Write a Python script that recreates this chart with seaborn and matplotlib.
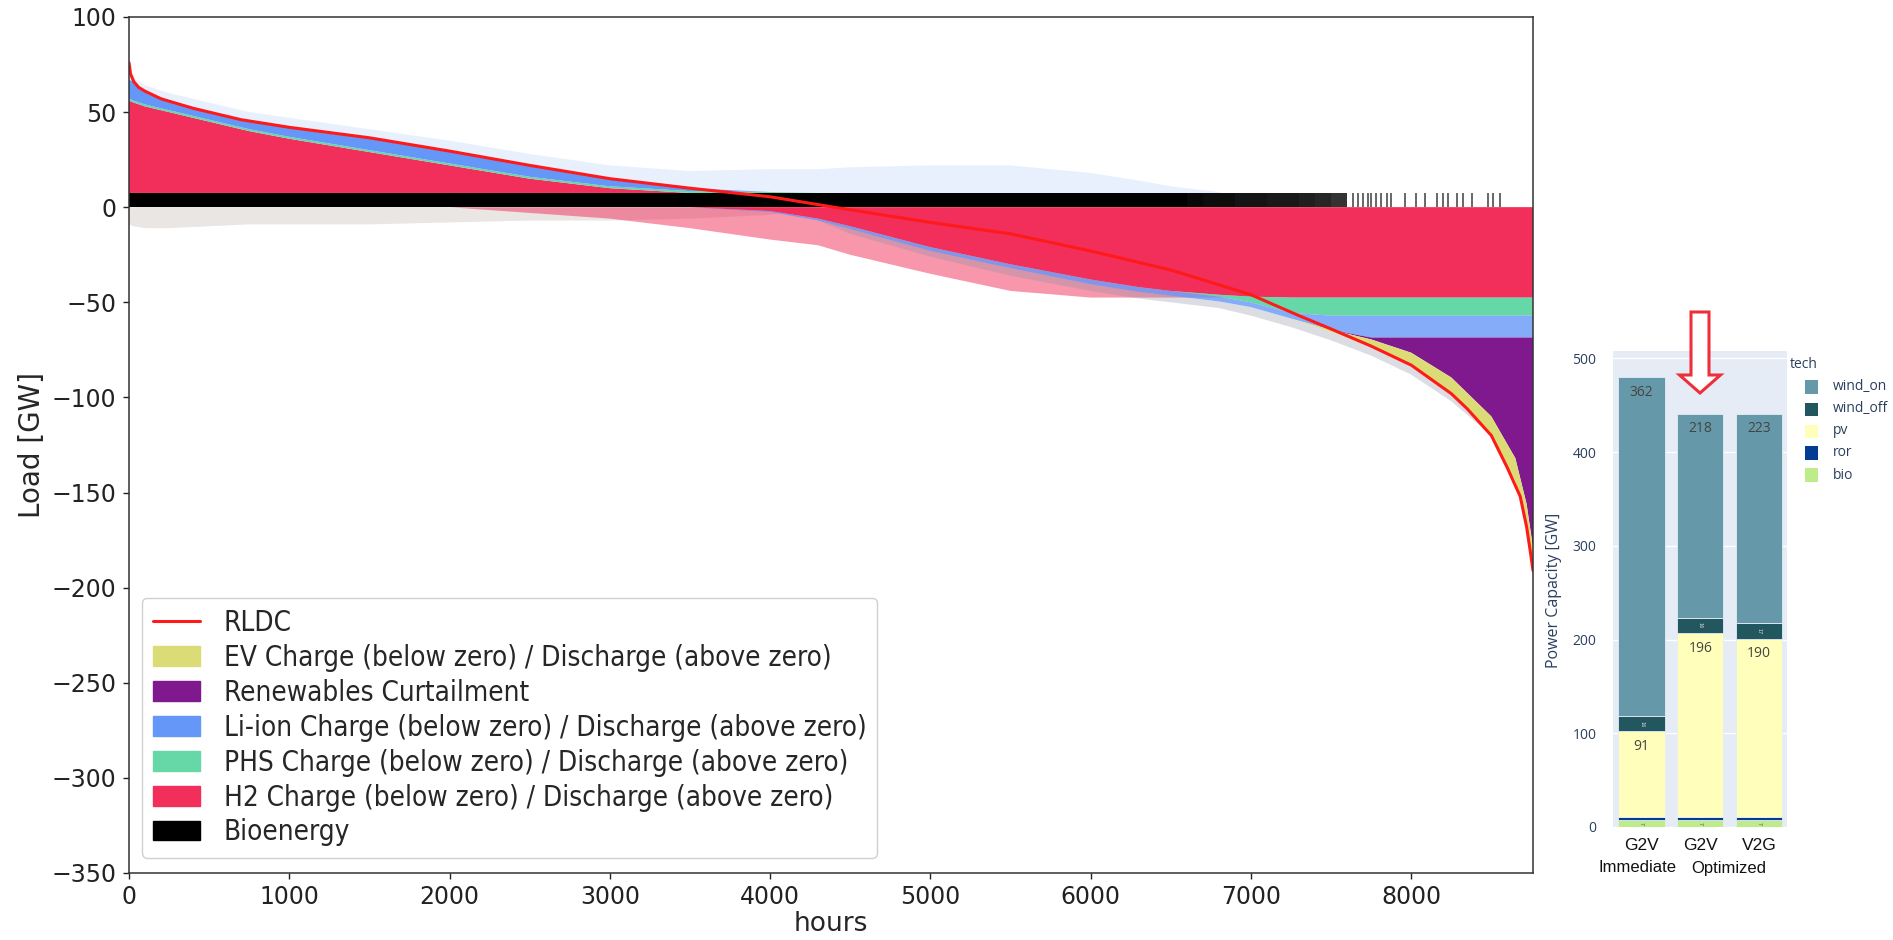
import matplotlib
matplotlib.use('Agg')
import matplotlib.pyplot as plt
from matplotlib.patches import Patch, Polygon, Rectangle
from matplotlib.lines import Line2D
import numpy as np
import pandas as pd
import seaborn as sns

sns.set_style('ticks')
plt.rcParams['font.family'] = ['DejaVu Sans']

# Residual load duration curve (hours sorted by residual load)
rldc_hours = [0, 10, 30, 60, 100, 200, 400, 700, 1000, 1500, 2000, 2500, 3000, 3500, 4000, 4400,
              5000, 5500, 6000, 6500, 7000, 7300, 7500, 7750, 8000, 8250, 8350, 8500, 8600, 8680,
              8720, 8745, 8760]
rldc_gw = [76, 70, 66, 63, 61, 57, 52, 46, 42, 36.5, 29.5, 22, 15, 10, 5.5, 0,
           -8, -14, -23, -33, -46, -57, -64, -73, -83, -98, -106, -120, -137, -152,
           -168, -182, -191]

hours = [0, 30, 100, 250, 500, 750, 1000, 1500, 2000, 2500, 3000, 3500, 4000, 4300, 4500, 5000,
         5500, 6000, 6300, 6500, 6800, 7000, 7250, 7500, 7750, 8000, 8250, 8500, 8650, 8720, 8760]

# above zero (discharge / generation)
bio_gw = [7.5, 7.5, 7.5, 7.5, 7.5, 7.5, 7.5, 7.5, 7.5, 7.5, 7.5, 7.5, 7.5, 7.5, 7.5, 7.5,
          7.5, 7.5, 7.5, 7.5, 0, 0, 0, 0, 0, 0, 0, 0, 0, 0, 0]
h2_dis = [48.5, 47.5, 45.5, 42.5, 37.5, 32.5, 28.5, 21.5, 14.5, 7.5, 2.5, 0, 0, 0, 0, 0,
          0, 0, 0, 0, 0, 0, 0, 0, 0, 0, 0, 0, 0, 0, 0]
phs_dis = [1, 1, 1, 1, 1, 1, 1, 1, 1, 1, 1, 1, 0.5, 0, 0, 0,
           0, 0, 0, 0, 0, 0, 0, 0, 0, 0, 0, 0, 0, 0, 0]
li_dis = [10, 10, 7, 5, 4.5, 4, 5, 6.5, 6.5, 6, 4, 1.5, 0, 0, 0, 0,
          0, 0, 0, 0, 0, 0, 0, 0, 0, 0, 0, 0, 0, 0, 0]

# below zero (charge / curtailment), as magnitudes
h2_ch = [0, 0, 0, 0, 0, 0, 0, 0, 0, 0, 0, 0, 2, 6, 10, 21,
         30, 38, 42, 44, 46, 47, 47.5, 47.5, 47.5, 47.5, 47.5, 47.5, 47.5, 47.5, 47.5]
phs_ch = [0, 0, 0, 0, 0, 0, 0, 0, 0, 0, 0, 0, 0, 0, 0, 0,
          0, 0, 0, 0, 1, 3, 8, 9.5, 9.5, 9.5, 9.5, 9.5, 9.5, 9.5, 9.5]
li_ch = [0, 0, 0, 0, 0, 0, 0, 0, 0, 0, 0, 0, 0.5, 1, 1.5, 2,
         2, 2.5, 2.5, 2.5, 2.5, 2.5, 3, 7.5, 11.5, 11.5, 11.5, 11.5, 11.5, 11.5, 11.5]
curtail = [0, 0, 0, 0, 0, 0, 0, 0, 0, 0, 0, 0, 0, 0, 0, 0,
           0, 0, 0, 0, 0, 0, 0, 0, 1, 8, 21, 41.5, 63.5, 87.5, 110.5]
ev_ch = [0, 0, 0, 0, 0, 0, 0, 0, 0, 0, 0, 0, 0, 0, 0, 0,
         0, 0, 0, 0, 0, 0, 0, 1, 4, 6.5, 8.5, 10, 12, 12, 12]

# envelopes of the hour-to-hour spikes (faint parts of the picture)
pos_spikes = [70, 68, 64, 60, 55, 50, 47, 41, 35, 28, 22, 19, 20, 20, 21, 22,
              22, 18, 14, 11, 8, 0, 0, 0, 0, 0, 0, 0, 0, 0, 0]
low_spikes = [9, 10, 11, 11, 10, 9, 9, 9, 8, 7, 7, 6, 4, 0, 0, 0,
              0, 0, 0, 0, 0, 0, 0, 0, 0, 0, 0, 0, 0, 0, 0]
h2_spikes = [0, 0, 0, 0, 0, 0, 0, 0, 0, 3, 6, 11, 17, 20, 25, 35,
             44, 47.5, 47.5, 47.5, 47.5, 47.5, 47.5, 47.5, 47.5, 47.5, 47.5, 47.5, 47.5, 47.5, 47.5]
grey_spikes = [0, 0, 0, 0, 0, 0, 0, 0, 0, 0, 0, 0, 0, 0, 14, 26,
               36, 44, 48, 50, 53, 57, 63, 70, 78, 88, 102, 0, 0, 0, 0]

# bioenergy runs only part of the hours at the end of the curve
bio_tail_hours = [6500, 6600, 6700, 6800, 6900, 7000, 7100, 7200, 7300, 7400, 7500]
bio_tail_share = [1.0, 0.97, 0.95, 0.95, 0.92, 0.92, 0.9, 0.9, 0.88, 0.85, 0.8]
bio_spike_hours = [7638, 7669, 7700, 7731, 7752, 7783, 7814, 7850, 7877, 7960, 8033, 8085,
                   8158, 8200, 8231, 8283, 8325, 8377, 8481, 8512, 8554]

# Inset: installed power capacity
scenarios = ['G2V', 'G2V', 'V2G']
scenario_groups = ['Immediate', 'Optimized']
techs = ['bio', 'ror', 'pv', 'wind_off', 'wind_on']
cap_bio = [7, 7, 7]
cap_ror = [4, 4, 4]
cap_pv = [91, 196, 190]
cap_wind_off = [16, 16, 17]
cap_wind_on = [362, 218, 223]

c_ev = '#dcdc76'
c_curt = '#80198e'
c_li = '#6597f8'
c_phs = '#66d8a8'
c_h2 = '#f22e5b'
c_bio = '#000000'

W, H = 1893, 940
fig = plt.figure(figsize=(W / 100, H / 100), dpi=100)
ax = fig.add_axes([129 / W, 1 - 873 / H, 1404 / W, 856 / H])

x = np.array(hours, dtype=float)
bio = np.array(bio_gw)
p1 = bio + np.array(h2_dis)
p2 = p1 + np.array(phs_dis)
p3 = p2 + np.array(li_dis)
n1 = -np.array(h2_ch)
n2 = n1 - np.array(phs_ch)
n3 = n2 - np.array(li_ch)
n4 = n3 - np.array(curtail)
n5 = n4 - np.array(ev_ch)

kw = dict(linewidth=0, edgecolor='none')
# faint spikes first
ax.fill_between(x, p3, np.maximum(p3, pos_spikes), color=c_li, alpha=0.15, **kw)
ax.fill_between(x, 0, -np.array(low_spikes), color='#9c8f80', alpha=0.22, **kw)
ax.fill_between(x, 0, -np.array(h2_spikes), color=c_h2, alpha=0.5, **kw)
ax.fill_between(x, n5, np.minimum(n5, -np.array(grey_spikes)), color='#8a90a4', alpha=0.3, **kw)

# solid stack
ax.fill_between(x, 0, bio, where=x <= 6500, color=c_bio, **kw)
ax.bar(bio_tail_hours, max(bio_gw), width=100, align='edge',
       color=[(0, 0, 0, s) for s in bio_tail_share], linewidth=0)
ax.vlines(bio_spike_hours, 0, max(bio_gw), color='black', alpha=0.6, linewidth=1.4)
ax.fill_between(x, bio, p1, color=c_h2, **kw)
ax.fill_between(x, p1, p2, color=c_phs, **kw)
ax.fill_between(x, p2, p3, color=c_li, **kw)
ax.fill_between(x, 0, n1, color=c_h2, **kw)
ax.fill_between(x, n1, n2, color=c_phs, **kw)
ax.fill_between(x, n2, n3, color=c_li, alpha=0.8, **kw)
ax.fill_between(x, n3, n4, color=c_curt, **kw)
ax.fill_between(x, n4, n5, color=c_ev, **kw)

sns.lineplot(x=rldc_hours, y=rldc_gw, color='#ff1a1a', linewidth=2.2, ax=ax, legend=False)

ax.set_xlim(0, 8760)
ax.set_ylim(-350, 100)
ax.set_xticks(range(0, 8001, 1000))
ax.set_yticks(range(-350, 101, 50))
ax.tick_params(labelsize=17, length=4, width=1, pad=5, colors='#222222')
ax.set_xlabel('hours', fontsize=19, labelpad=1)
ax.set_ylabel('Load [GW]', fontsize=20, labelpad=4)
for s in ax.spines.values():
    s.set_color('#333333')
    s.set_linewidth(1.1)

handles = [Line2D([0], [0], color='#ff1a1a', lw=2.2),
           Patch(color=c_ev), Patch(color=c_curt), Patch(color=c_li),
           Patch(color=c_phs), Patch(color=c_h2), Patch(color=c_bio)]
labels = ['RLDC',
          'EV Charge (below zero) / Discharge (above zero)',
          'Renewables Curtailment',
          'Li-ion Charge (below zero) / Discharge (above zero)',
          'PHS Charge (below zero) / Discharge (above zero)',
          'H2 Charge (below zero) / Discharge (above zero)',
          'Bioenergy']
ax.legend(handles, labels, loc='lower left', bbox_to_anchor=(0.009, 0.018), borderaxespad=0,
          prop={'size': 20, 'stretch': 'condensed'}, handlelength=1.7, handletextpad=0.85,
          labelspacing=0.25, borderpad=0.4, framealpha=1, edgecolor='#d0d0d0')

# ---- inset (capacity bars)
plotly_txt = '#2a3f5f'
ax2 = fig.add_axes([1613 / W, 1 - 827 / H, 174 / W, 476 / H])
ax2.set_facecolor('#E5ECF6')
cap = pd.DataFrame({'bio': cap_bio, 'ror': cap_ror, 'pv': cap_pv,
                    'wind_off': cap_wind_off, 'wind_on': cap_wind_on})
tech_colors = {'bio': '#bfec8a', 'ror': '#043c94', 'pv': '#ffffbb',
               'wind_off': '#22575f', 'wind_on': '#6599a9'}
xpos = np.arange(len(scenarios))
bottom = np.zeros(len(scenarios))
for t in techs:
    ax2.bar(xpos, cap[t], bottom=bottom, width=0.79, color=tech_colors[t],
            edgecolor='#E5ECF6', linewidth=0.6, zorder=3)
    for i, v in enumerate(cap[t]):
        if t in ('wind_on', 'pv'):
            ax2.text(i, bottom[i] + v - 16, str(v), ha='center', va='center', fontsize=10,
                     color='#444444', family='Open Sans', zorder=4)
        elif t == 'wind_off':
            ax2.text(i, bottom[i] + v / 2, str(v), ha='center', va='center', fontsize=3.5,
                     color='#dddddd', rotation=-90, zorder=4)
        elif t == 'bio':
            ax2.text(i, bottom[i] + v / 2, str(v), ha='center', va='center', fontsize=3.5,
                     color='#555555', rotation=-90, zorder=4)
    bottom += cap[t].values
ax2.set_xlim(-0.485, 2.477)
ax2.set_ylim(0, 508)
ax2.set_yticks([0, 100, 200, 300, 400, 500])
ax2.set_xticks(xpos)
ax2.set_xticklabels(scenarios, fontsize=12.5, color='#111111', family='Liberation Sans')
ax2.tick_params(axis='y', length=0, labelsize=10, labelcolor=plotly_txt, pad=12)
ax2.tick_params(axis='x', length=0, pad=8)
for lab in ax2.get_yticklabels():
    lab.set_family('Open Sans')
ax2.yaxis.grid(True, color='white', linewidth=1, zorder=0)
ax2.set_axisbelow(True)
for s in ax2.spines.values():
    s.set_visible(False)

fig.text(1637 / W, 1 - 868 / H, scenario_groups[0], ha='center', va='center', fontsize=12,
         color='#111111', family='Liberation Sans')
fig.text(1729 / W, 1 - 868 / H, scenario_groups[1], ha='center', va='center', fontsize=12,
         color='#111111', family='Liberation Sans')
fig.text(1554 / W, 1 - 590 / H, 'Power Capacity [GW]', rotation=90, ha='center', va='center',
         fontsize=11.5, color=plotly_txt, family='Open Sans')

# inset legend
fig.text(1790 / W, 1 - 365 / H, 'tech', ha='left', va='center', fontsize=10,
         color=plotly_txt, family='Open Sans')
legend_rows = [387, 409, 431, 453, 475]
for t, ry in zip(techs[::-1], legend_rows):
    fig.add_artist(Rectangle((1805 / W, 1 - (ry + 6.5) / H), 13 / W, 13 / H,
                             transform=fig.transFigure, facecolor=tech_colors[t],
                             edgecolor='none'))
    fig.text(1833 / W, 1 - ry / H, t, ha='left', va='center', fontsize=10,
             color=plotly_txt, family='Open Sans')

# hollow red arrow pointing at the optimized G2V bar
arrow_px = [(1691, 312), (1709, 312), (1709, 375), (1720.5, 375), (1700, 393),
            (1679.5, 375), (1691, 375)]
fig.add_artist(Polygon([(px / W, 1 - py / H) for px, py in arrow_px], closed=True,
                       transform=fig.transFigure, facecolor='white', edgecolor='#ee2f3a',
                       linewidth=2.2))

fig.savefig('out.png', dpi=100)
